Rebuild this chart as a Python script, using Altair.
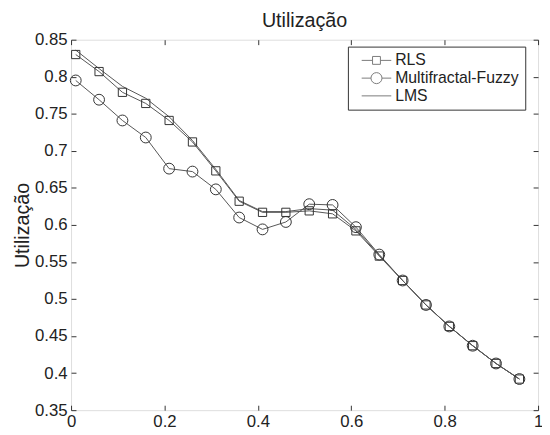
import altair as alt
import pandas as pd

# ---- data ----
X = [0.01, 0.06, 0.11, 0.16, 0.21, 0.26, 0.31, 0.36, 0.41, 0.46,
     0.51, 0.56, 0.61, 0.66, 0.71, 0.76, 0.81, 0.86, 0.91, 0.96]
RLS = [0.830, 0.807, 0.779, 0.764, 0.741, 0.712, 0.673, 0.632, 0.617, 0.617,
       0.619, 0.615, 0.592, 0.558, 0.525, 0.492, 0.463, 0.437, 0.413, 0.392]
FUZZY = [0.795, 0.769, 0.741, 0.718, 0.676, 0.672, 0.648, 0.610, 0.594, 0.604,
         0.628, 0.627, 0.597, 0.560, 0.525, 0.492, 0.463, 0.437, 0.413, 0.392]
LMS = [0.836, 0.811, 0.787, 0.771, 0.746, 0.714, 0.675, 0.633, 0.618, 0.618,
       0.622, 0.620, 0.594, 0.559, 0.525, 0.492, 0.463, 0.437, 0.413, 0.392]
SERIES = ["RLS", "Multifractal-Fuzzy", "LMS"]
X_TICKS = [0, 0.2, 0.4, 0.6, 0.8, 1]
Y_TICKS = [0.35, 0.4, 0.45, 0.5, 0.55, 0.6, 0.65, 0.7, 0.75, 0.8, 0.85]
TITLE = "Utilização"
Y_TITLE = "Utilização"

rows = []
for name, vals in zip(SERIES, [RLS, FUZZY, LMS]):
    for x, y in zip(X, vals):
        rows.append({"x": x, "y": y, "series": name})
df = pd.DataFrame(rows)

FONT = "Liberation Sans"
xs = alt.Scale(domain=[0, 1], nice=False)
ys = alt.Scale(domain=[0.35, 0.85], nice=False)

common_axis = dict(domain=False, grid=False, offset=-5, tickSize=5,
                   tickColor="#333", labelFont=FONT, labelFontSize=17,
                   labelColor="#222", format=".2~f")

lines = alt.Chart(df).mark_line(color="#555", strokeWidth=1).encode(
    x=alt.X("x:Q", scale=xs, axis=alt.Axis(values=X_TICKS, title=None,
                                           labelPadding=4, labelFlush=False,
                                           **common_axis)),
    y=alt.Y("y:Q", scale=ys, axis=alt.Axis(values=Y_TICKS, title=Y_TITLE,
                                           labelPadding=4, titlePadding=2,
                                           titleFont=FONT, titleFontSize=20,
                                           titleFontWeight="normal",
                                           titleColor="#222",
                                           **common_axis)),
    detail="series:N",
)

mirror_axis = dict(domain=False, grid=False, offset=-5, tickSize=5,
                   tickColor="#333", labels=False, title=None,
                   minExtent=0, maxExtent=0)

points = alt.Chart(df).transform_filter(
    alt.datum.series != "LMS"
).mark_point(filled=False, color="#333", strokeWidth=1, opacity=1).encode(
    x=alt.X("x:Q", scale=xs, axis=alt.Axis(orient="top", values=X_TICKS, **mirror_axis)),
    y=alt.Y("y:Q", scale=ys, axis=alt.Axis(orient="right", values=Y_TICKS, **mirror_axis)),
    shape=alt.Shape("series:N", scale=alt.Scale(domain=["RLS", "Multifractal-Fuzzy"],
                                                range=["square", "circle"]),
                    legend=None),
    size=alt.Size("series:N", scale=alt.Scale(domain=["RLS", "Multifractal-Fuzzy"],
                                              range=[70, 121]),
                  legend=None),
)

SQ = "M-3.75,0H-1M1,0H3.75M-1,-1H1V1H-1Z"
CI = "M-3.75,0H-1.4A1.4,1.4 0 1,1 1.4,0A1.4,1.4 0 1,1 -1.4,0M1.4,0H3.75"
LN = "M-3.75,0H3.75"

legend_layer = alt.Chart(df).transform_filter("false").mark_point(
    filled=False, color="#444", strokeWidth=1
).encode(
    shape=alt.Shape("series:N",
                    scale=alt.Scale(domain=SERIES, range=[SQ, CI, LN]),
                    legend=alt.Legend(title=None, orient="none", legendX=281, legendY=7,
                                      padding=6, rowPadding=2, symbolSize=64,
                                      symbolOffset=15, labelOffset=11,
                                      symbolStrokeWidth=1, symbolStrokeColor="#444",
                                      labelFont=FONT, labelFontSize=16, labelColor="#222",
                                      strokeColor="#333", fillColor="white")),
)

chart = alt.layer(lines, points, legend_layer).resolve_scale(
    shape="independent", size="independent"
).resolve_axis(x="independent", y="independent").properties(
    width=474, height=376,
    title=alt.Title(TITLE, font=FONT, fontSize=20, fontWeight="normal",
                    color="#222", offset=0, anchor="middle"),
    autosize=alt.AutoSizeParams(type="none"),
    padding={"left": 64, "top": 29, "right": 4, "bottom": 20},
).configure_view(stroke="#333", strokeWidth=1).configure(background="white")

chart.save("out.html", embed_options={"renderer": "svg", "actions": False})
